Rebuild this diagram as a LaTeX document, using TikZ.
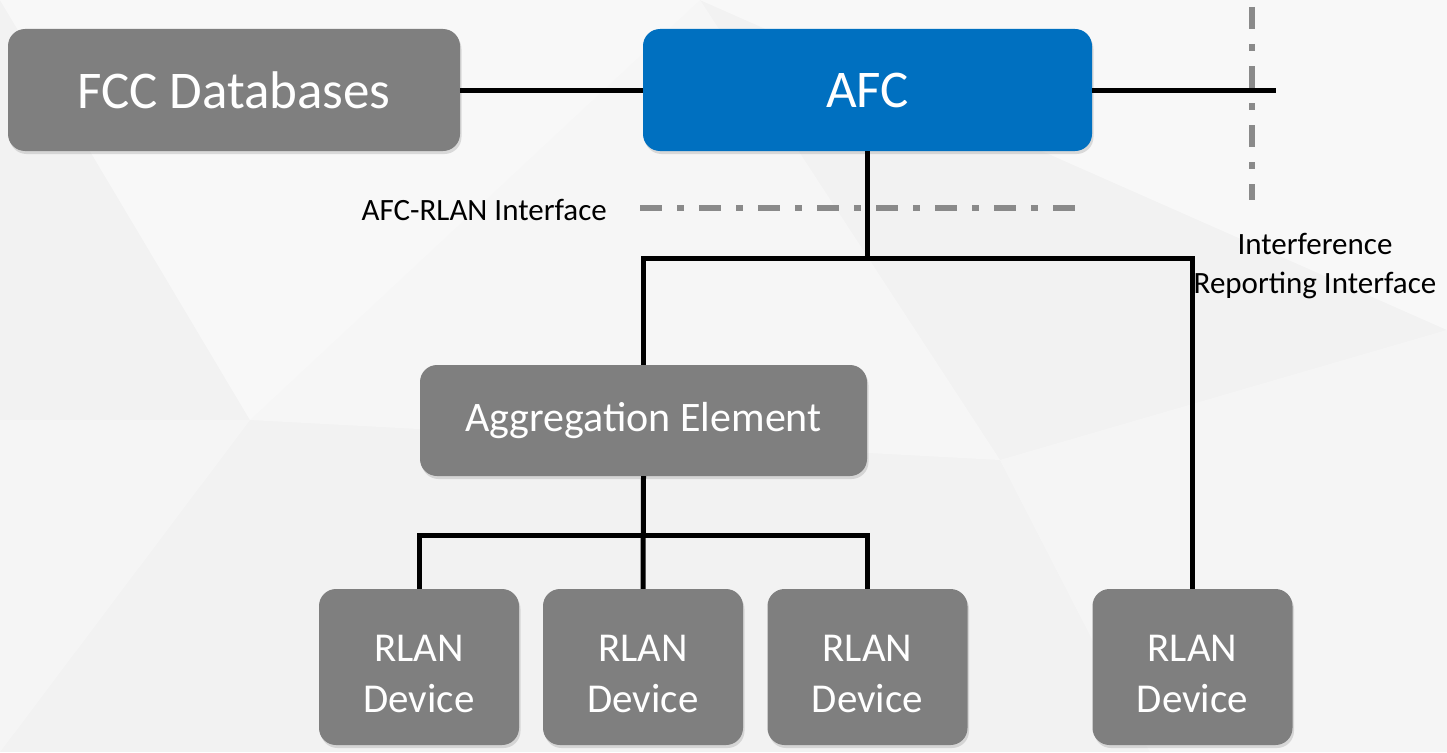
\documentclass[tikz,border=0pt]{standalone}
\usepackage{fontspec}
\setmainfont{Carlito}
\usetikzlibrary{shadows}
\definecolor{boxgray}{HTML}{7F7F7F}
\definecolor{afcblue}{HTML}{0070C0}
\definecolor{bggray}{HTML}{F2F2F2}
\definecolor{dashgray}{HTML}{8A8A8A}
\tikzset{
  box/.style={rounded corners=17pt, fill=boxgray, text=white, inner sep=0pt, align=center,
    drop shadow={opacity=0.25, shadow xshift=1.5pt, shadow yshift=-3pt}},
  link/.style={line width=5pt, black},
  iface/.style={line width=5.5pt, dashgray, dash pattern=on 22pt off 15pt on 7pt off 15pt},
  lbl/.style={text=black, inner sep=0pt, font=\fontsize{31}{39}\selectfont, align=center}
}
\begin{document}
\begin{tikzpicture}[x=1pt,y=-1pt]
\useasboundingbox (0,0) rectangle (1447,752);
% background
\fill[bggray] (0,0) rectangle (1447,752);
\fill[white,opacity=0.5] (0,0) -- (700,0) -- (250,420) -- cycle;
\fill[white,opacity=0.5] (700,0) -- (1447,0) -- (1447,330) -- cycle;
\fill[white,opacity=0.3] (0,420) -- (250,420) -- (0,752) -- cycle;
\fill[white,opacity=0.3] (1000,460) -- (1447,330) -- (1447,752) -- (1150,752) -- cycle;
\fill[white,opacity=0.35] (250,420) -- (700,0) -- (1000,460) -- cycle;
% nodes
\node[box, minimum width=452pt, minimum height=122pt, font=\fontsize{53}{60}\selectfont] (fcc) at (234,90) {FCC Databases};
\node[box, fill=afcblue, minimum width=449pt, minimum height=122pt, font=\fontsize{53}{60}\selectfont] (afc) at (867.5,90) {AFC};
\node[box, minimum width=447pt, minimum height=111pt, font=\fontsize{42}{48}\selectfont] (agg) at (643.5,420.5) {Aggregation Element};
\foreach \n/\x in {r1/419, r2/643, r3/867.5, r4/1192.5}{
  \node[box, minimum width=200pt, minimum height=156pt, font=\fontsize{41}{51}\selectfont] (\n) at (\x,667) {\rule{0pt}{41pt}RLAN\\Device};
}
% interface lines
\coordinate (ifaceA) at (640,208);
\coordinate (ifaceB) at (1087,208);
\draw[iface] (ifaceA) -- (ifaceB);
\coordinate (irTop) at (1252,7);
\coordinate (irBot) at (1252,200);
\draw[iface] (irTop) -- (irBot);
% labels
\node[lbl, anchor=east] (lblafc) at (607,210) {AFC-RLAN Interface};
\node[lbl] (lblir) at (1315,266) {Interference\\Reporting Interface};
% connectors
\coordinate (irEnd) at (1276,90);
\draw[link] (fcc.east) -- (afc.west);
\draw[link] (afc.east) -- (irEnd);
\coordinate (bus1) at (0,258);
\coordinate (bus2) at (0,535);
\draw[link] (afc.south) -- (afc.south |- bus1);
\draw[link] (agg.north) -- (agg.north |- bus1) -- (r4.north |- bus1) -- (r4.north);
\draw[link] (agg.south) -- (r2.north);
\draw[link] (r1.north) -- (r1.north |- bus2) -- (r3.north |- bus2) -- (r3.north);
\end{tikzpicture}
\end{document}
